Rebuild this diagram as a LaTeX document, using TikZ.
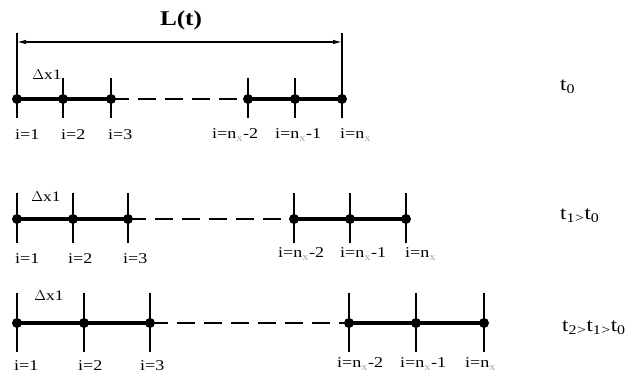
\documentclass[tikz,border=0pt]{standalone}
\usepackage{fontspec}
\setmainfont[FakeStretch=1.2]{Liberation Serif}
\usetikzlibrary{arrows.meta}
\tikzset{
  pt/.style={circle,fill=black,inner sep=0pt,minimum size=10pt},
  tick/.style={line width=1.1pt},
  bar/.style={line width=3.3pt},
  gapline/.style={line width=1.1pt,dash pattern=on 18pt off 9pt},
  lab/.style={anchor=west,inner sep=0pt,font=\fontsize{15}{15}\selectfont},
  tlab/.style={anchor=west,inner sep=0pt,font=\fontsize{19}{19}\selectfont},
  dlab/.style={inner sep=0pt,font=\fontsize{14.5}{14.5}\selectfont},
  dimarrow/.style={line width=1.1pt,{Latex[length=9pt,width=4.5pt]}-{Latex[length=9pt,width=4.5pt]}}
}
\newcommand\nsubx{n\textsubscript{\color{black!35}x}}
\begin{document}
\begin{tikzpicture}[x=1pt,y=-1pt]
\useasboundingbox (0,0) rectangle (630,374);
% ---------- row 1 ----------
\foreach \n/\x in {1/17,2/63,3/111,4/248,5/295,6/342}{
  \coordinate (pa\n) at (\x,99);
  \coordinate (ta\n) at (\x,78);
  \coordinate (ba\n) at (\x,118);
  \draw[tick] (ta\n) -- (ba\n);
}
\coordinate (ea1) at (17,33);
\coordinate (ea6) at (342,33);
\draw[tick] (ea1) -- (ta1);
\draw[tick] (ea6) -- (ta6);
\coordinate (la1) at (17,42);
\coordinate (la6) at (342,42);
\draw[dimarrow] (la1) -- (la6);
\node[inner sep=0pt,font=\fontsize{21}{21}\selectfont\bfseries] (Lt) at (181,20) {L(t)};
\draw[bar] (pa1) -- (pa2) -- (pa3);
\draw[gapline] (pa3) -- (pa4);
\draw[bar] (pa4) -- (pa5) -- (pa6);
\foreach \n in {1,...,6}{\node[pt] (qa\n) at (pa\n) {};}
\node[dlab] (dxa) at (47,75) {$\Delta$x1};
\node[lab] (la1t) at (15,135) {i=1};
\node[lab] (la2t) at (61,135) {i=2};
\node[lab] (la3t) at (108,135) {i=3};
\node[lab] (la4t) at (212,135) {i=\nsubx-2};
\node[lab] (la5t) at (275,135) {i=\nsubx-1};
\node[lab] (la6t) at (340,135) {i=\nsubx};
\node[tlab] (t0) at (560,87) {t\textsubscript{0}};
% ---------- row 2 ----------
\foreach \n/\x in {1/17,2/73,3/128,4/294,5/350,6/406}{
  \coordinate (pb\n) at (\x,219);
  \coordinate (tb\n) at (\x,193);
  \coordinate (bb\n) at (\x,243);
  \draw[tick] (tb\n) -- (bb\n);
}
\draw[bar] (pb1) -- (pb2) -- (pb3);
\draw[gapline] (pb3) -- (pb4);
\draw[bar] (pb4) -- (pb5) -- (pb6);
\foreach \n in {1,...,6}{\node[pt] (qb\n) at (pb\n) {};}
\node[dlab] (dxb) at (46,197) {$\Delta$x1};
\node[lab] (lb1t) at (15,259) {i=1};
\node[lab] (lb2t) at (68,259) {i=2};
\node[lab] (lb3t) at (123,259) {i=3};
\node[lab] (lb4t) at (278,254) {i=\nsubx-2};
\node[lab] (lb5t) at (340,254) {i=\nsubx-1};
\node[lab] (lb6t) at (405,254) {i=\nsubx};
\node[tlab] (t1) at (560,216) {t\textsubscript{1}\textsubscript{>}t\textsubscript{0}};
% ---------- row 3 ----------
\foreach \n/\x in {1/17,2/84,3/150,4/349,5/416,6/484}{
  \coordinate (pc\n) at (\x,323);
  \coordinate (tc\n) at (\x,293);
  \coordinate (bc\n) at (\x,352);
  \draw[tick] (tc\n) -- (bc\n);
}
\draw[bar] (pc1) -- (pc2) -- (pc3);
\draw[gapline] (pc3) -- (pc4);
\draw[bar] (pc4) -- (pc5) -- (pc6);
\foreach \n in {1,...,6}{\node[pt] (qc\n) at (pc\n) {};}
\node[dlab] (dxc) at (49,296) {$\Delta$x1};
\node[lab] (lc1t) at (14,366) {i=1};
\node[lab] (lc2t) at (78,366) {i=2};
\node[lab] (lc3t) at (140,366) {i=3};
\node[lab] (lc4t) at (337,364) {i=\nsubx-2};
\node[lab] (lc5t) at (400,364) {i=\nsubx-1};
\node[lab] (lc6t) at (465,364) {i=\nsubx};
\node[tlab] (t2) at (562,328) {t\textsubscript{2}\textsubscript{>}t\textsubscript{1}\textsubscript{>}t\textsubscript{0}};
\end{tikzpicture}
\end{document}
